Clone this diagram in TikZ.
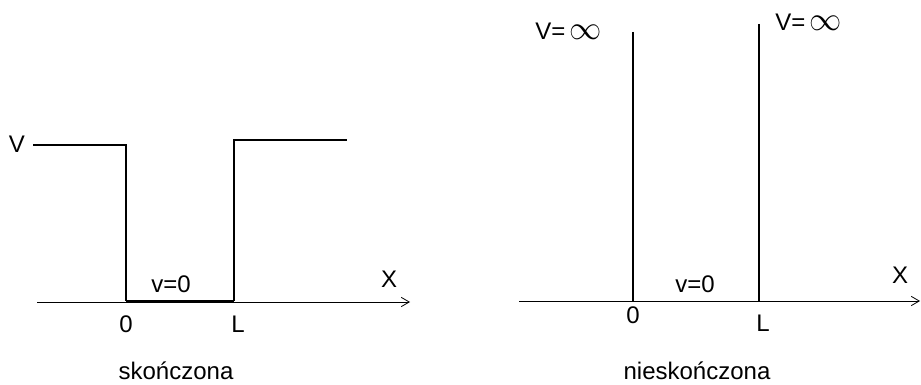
\documentclass[tikz,border=0pt]{standalone}
\usepackage{fontspec}
\setmainfont{Liberation Sans}
\usepackage{graphicx}
\usetikzlibrary{arrows.meta, positioning}

\newcommand{\Vinf}{V=\,\scalebox{1.4}[1.45]{$\infty$}}

\begin{document}
\begin{tikzpicture}[
    x=0.75pt, y=-0.75pt,
    axis/.style={-{Straight Barb[length=6pt, width=7pt]}, line width=0.6pt},
    wall/.style={line width=1.5pt},
    floor/.style={line width=2.2pt},
    lbl/.style={font=\fontsize{18}{18}\selectfont, inner sep=0pt, anchor=base},
    title/.style={font=\fontsize{18}{18}\selectfont, inner sep=0pt, anchor=base}
  ]
  \useasboundingbox (0,0) rectangle (921,385);

  % Finite well
  \coordinate (ax1s) at (37,302);
  \coordinate (ax1e) at (410,302);
  \coordinate (vl)   at (33,145);
  \coordinate (a0)   at (126,145);
  \coordinate (b0)   at (126,301);
  \coordinate (bL)   at (234,301);
  \coordinate (aL)   at (234,140);
  \coordinate (vr)   at (347,140);

  \draw[axis]  (ax1s) -- (ax1e);
  \draw[wall]  (vl) -- (a0) -- (b0);
  \draw[floor] (b0) -- (bL);
  \draw[wall]  (bL) -- (aL) -- (vr);

  \node[lbl] (V)     at (17,152)  {V};
  \node[lbl] (v0a)   at (171,292) {v=0};
  \node[lbl] (xa)    at (389,287) {X};
  \node[lbl] (zeroa) at (126,332) {0};
  \node[lbl] (La)    at (238,332) {L};
  \node[title] (fin) at (176,379) {skończona};

  % Infinite well
  \coordinate (ax2s) at (519,301);
  \coordinate (ax2e) at (920,301);
  \coordinate (w0t)  at (633,32);
  \coordinate (w0b)  at (633,301);
  \coordinate (wLt)  at (759,24);
  \coordinate (wLb)  at (759,301);

  \draw[axis] (ax2s) -- (ax2e);
  \draw[wall] (w0t) -- (w0b);
  \draw[wall] (wLt) -- (wLb);

  \node[lbl, anchor=base west] (vinf0) at (535,40) {\Vinf};
  \node[lbl, anchor=base west] (vinfL) at (775,31) {\Vinf};
  \node[lbl] (v0b)   at (695,292) {v=0};
  \node[lbl] (xb)    at (900,283) {X};
  \node[lbl] (zerob) at (633,323) {0};
  \node[lbl] (Lb)    at (763,331) {L};
  \node[title] (inf) at (697,379) {nieskończona};

\end{tikzpicture}
\end{document}
